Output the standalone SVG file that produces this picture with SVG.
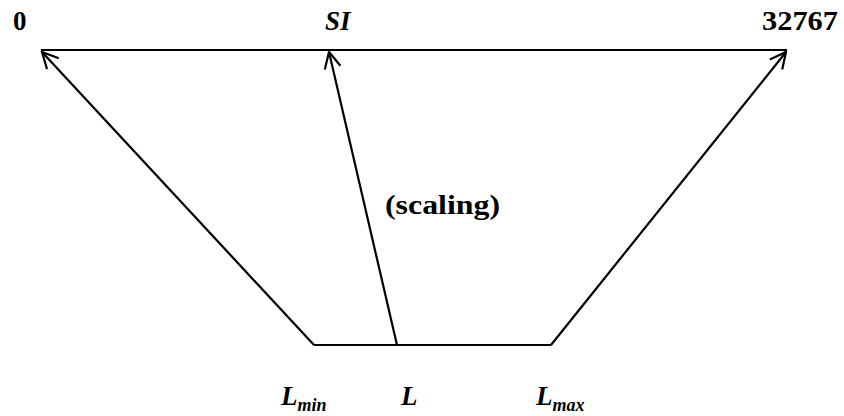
<svg xmlns="http://www.w3.org/2000/svg" width="844" height="416" viewBox="0 0 844 416">
<style>
text{font-family:"Times New Roman","Liberation Serif",Tinos,"DejaVu Serif",serif;font-weight:bold;fill:#000}
.t{font-size:27px}
.i{font-style:italic}
.s{font-size:18px}
.ln{stroke:#000;stroke-width:2.2;fill:none}
</style>
<defs>
<marker id="ah" viewBox="0 0 20 20" refX="18" refY="10" markerWidth="20" markerHeight="20" markerUnits="userSpaceOnUse" orient="auto">
<path d="M2,2 L18,10 L2,18" fill="none" stroke="#000" stroke-width="2.2"/>
</marker>
</defs>
<rect width="844" height="416" fill="#fff"/>
<g id="connectors">
<line class="ln" x1="41" y1="50" x2="787" y2="50"/>
<line class="ln" x1="314" y1="345" x2="551" y2="345"/>
<line class="ln" x1="314" y1="345" x2="42" y2="52" marker-end="url(#ah)"/>
<line class="ln" x1="397" y1="345" x2="329" y2="52" marker-end="url(#ah)"/>
<line class="ln" x1="551" y1="345" x2="786" y2="52" marker-end="url(#ah)"/>
</g>
<g id="n0"><text class="t" x="13" y="30">0</text></g>
<g id="nSI"><text class="t i" x="325" y="30">SI</text></g>
<g id="n32767"><text class="t" x="762" y="30" textLength="76" lengthAdjust="spacingAndGlyphs">32767</text></g>
<g id="nscaling"><text class="t" x="385" y="214" textLength="115" lengthAdjust="spacingAndGlyphs">(scaling)</text></g>
<g id="nLmin"><text class="t i" x="281" y="405">L<tspan class="s" dy="6">min</tspan></text></g>
<g id="nL"><text class="t i" x="401" y="405">L</text></g>
<g id="nLmax"><text class="t i" x="536" y="405">L<tspan class="s" dy="6">max</tspan></text></g>
</svg>
